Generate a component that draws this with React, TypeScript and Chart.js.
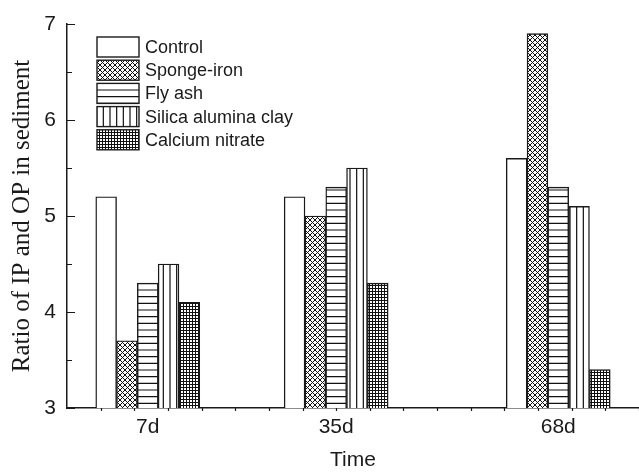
import React, { useEffect, useRef } from 'react';
import { Chart, registerables } from 'chart.js';

Chart.register(...registerables);

const categoryDays = [7, 35, 68];
const categoryLabels = ['7d', '35d', '68d'];
const seriesNames = ['Control', 'Sponge-iron', 'Fly ash', 'Silica alumina clay', 'Calcium nitrate'];
const controlValues = [5.2, 5.2, 5.6];
const spongeIronValues = [3.7, 5.0, 6.9];
const flyAshValues = [4.3, 5.3, 5.3];
const silicaValues = [4.5, 5.5, 5.1];
const calciumValues = [4.1, 4.3, 3.4];
const yTickValues = [3, 4, 5, 6, 7];
const xTitle = 'Time';
const yTitle = 'Ratio of IP and OP in sediment';

const INK = '#1a1a1a';
const SANS = '"Liberation Sans", Arial, sans-serif';
const SERIF = '"Liberation Serif", "Times New Roman", serif';

function makePattern(kind: string): any {
  if (kind === 'white') return '#ffffff';
  const c = document.createElement('canvas');
  let s = 20;
  if (kind === 'cross') s = 5;
  if (kind === 'grid') s = 3;
  c.width = s;
  c.height = s;
  const g = c.getContext('2d')!;
  g.fillStyle = '#ffffff';
  g.fillRect(0, 0, s, s);
  g.strokeStyle = '#111111';
  if (kind === 'cross') {
    g.lineWidth = 1;
    g.beginPath();
    for (let k = -1; k <= 1; k++) {
      g.moveTo(k * s, 0);
      g.lineTo(k * s + s, s);
      g.moveTo(k * s + s, 0);
      g.lineTo(k * s, s);
    }
    g.stroke();
  } else if (kind === 'hlines') {
    g.lineWidth = 1.2;
    g.beginPath();
    [10 / 3, 10, 50 / 3].forEach((y) => {
      g.moveTo(0, y);
      g.lineTo(s, y);
    });
    g.stroke();
  } else if (kind === 'vlines') {
    g.lineWidth = 1.2;
    g.beginPath();
    [10 / 3, 10, 50 / 3].forEach((x) => {
      g.moveTo(x, 0);
      g.lineTo(x, s);
    });
    g.stroke();
  } else if (kind === 'grid') {
    g.lineWidth = 1;
    g.beginPath();
    g.moveTo(0.5, 0);
    g.lineTo(0.5, s);
    g.moveTo(0, 0.5);
    g.lineTo(s, 0.5);
    g.stroke();
  }
  return g.createPattern(c, 'repeat');
}

const decorPlugin = {
  id: 'decor',
  afterDraw(chart: any) {
    const ctx = chart.ctx;
    const { left, bottom, top } = chart.chartArea;
    const xs = chart.scales.x;
    const ys = chart.scales.y;
    ctx.save();
    ctx.strokeStyle = INK;
    ctx.lineWidth = 1.2;
    ctx.beginPath();
    for (let v = ys.min; v <= ys.max + 1e-6; v += 0.5) {
      const y = Math.round(ys.getPixelForValue(v)) + 0.5;
      const len = Math.abs(v - Math.round(v)) < 1e-6 ? 8 : 5;
      ctx.moveTo(left, y);
      ctx.lineTo(left + len, y);
    }
    for (let d = 0; d <= xs.max; d += 5) {
      const x = Math.round(xs.getPixelForValue(d)) + 0.5;
      ctx.moveTo(x, bottom);
      ctx.lineTo(x, bottom + 3);
    }
    ctx.stroke();

    // legend
    const bx = left + 30;
    const by = top + 13;
    const pitch = 23.2;
    const bw = 42;
    const bh = 20;
    ctx.font = '18px ' + SANS;
    ctx.textBaseline = 'middle';
    ctx.textAlign = 'left';
    chart.data.datasets.forEach((ds: any, i: number) => {
      const y = by + i * pitch;
      ctx.fillStyle = ds.backgroundColor;
      ctx.fillRect(bx, y, bw, bh);
      ctx.lineWidth = 1.4;
      ctx.strokeStyle = INK;
      ctx.strokeRect(bx, y, bw, bh);
      ctx.fillStyle = INK;
      ctx.fillText(ds.label, bx + 48, y + bh / 2 + 1);
    });
    ctx.restore();
  },
};

export default function App() {
  const ref = useRef<HTMLCanvasElement | null>(null);
  useEffect(() => {
    if (!ref.current) return;
    const seriesValues = [controlValues, spongeIronValues, flyAshValues, silicaValues, calciumValues];
    const fills = ['white', 'cross', 'hlines', 'vlines', 'grid'].map(makePattern);
    const chart = new Chart(ref.current, {
      type: 'bar',
      data: {
        datasets: seriesNames.map((name, i) => ({
          label: name,
          data: categoryDays.map((d, j) => ({ x: d, y: seriesValues[i][j] })),
          backgroundColor: fills[i],
          borderColor: INK,
          borderWidth: 1.4,
          barThickness: 20.8,
          base: 3,
        })),
      } as any,
      options: {
        responsive: false,
        animation: false,
        layout: { padding: { top: 24, left: 0, right: 0, bottom: 0 } },
        plugins: { legend: { display: false }, tooltip: { enabled: false } },
        scales: {
          x: {
            type: 'linear',
            offset: false,
            min: -5,
            max: 80,
            grid: { display: false, drawTicks: false, offset: false },
            border: { display: true, color: INK, width: 1.5 },
            afterBuildTicks: (s: any) => {
              s.ticks = categoryDays.map((v) => ({ value: v }));
            },
            ticks: {
              callback: (v: any) => categoryLabels[categoryDays.indexOf(v)],
              font: { family: SANS, size: 21 },
              color: INK,
              padding: 7,
              maxRotation: 0,
              autoSkip: false,
            },
            title: {
              display: true,
              text: xTitle,
              font: { family: SANS, size: 21 },
              color: INK,
              padding: { top: 0, bottom: 0 },
            },
            afterFit: (s: any) => {
              s.height = 65;
            },
          },
          y: {
            type: 'linear',
            min: 3,
            max: 7,
            grid: { display: false, drawTicks: false },
            border: { display: true, color: INK, width: 1.5 },
            afterBuildTicks: (s: any) => {
              s.ticks = yTickValues.map((v) => ({ value: v }));
            },
            ticks: {
              font: { family: SANS, size: 21 },
              color: INK,
              padding: 11,
            },
            title: {
              display: true,
              text: yTitle,
              font: { family: SERIF, size: 25 },
              color: INK,
              padding: { top: 7, bottom: 0 },
            },
            afterFit: (s: any) => {
              s.width = 67;
            },
          },
        },
      } as any,
      plugins: [decorPlugin],
    });
    return () => chart.destroy();
  }, []);
  return (
    <div style={{ position: 'fixed', left: 0, top: 0, width: 639, height: 473, background: '#fff' }}>
      <canvas ref={ref} width={639} height={473} style={{ display: 'block' }} />
    </div>
  );
}
